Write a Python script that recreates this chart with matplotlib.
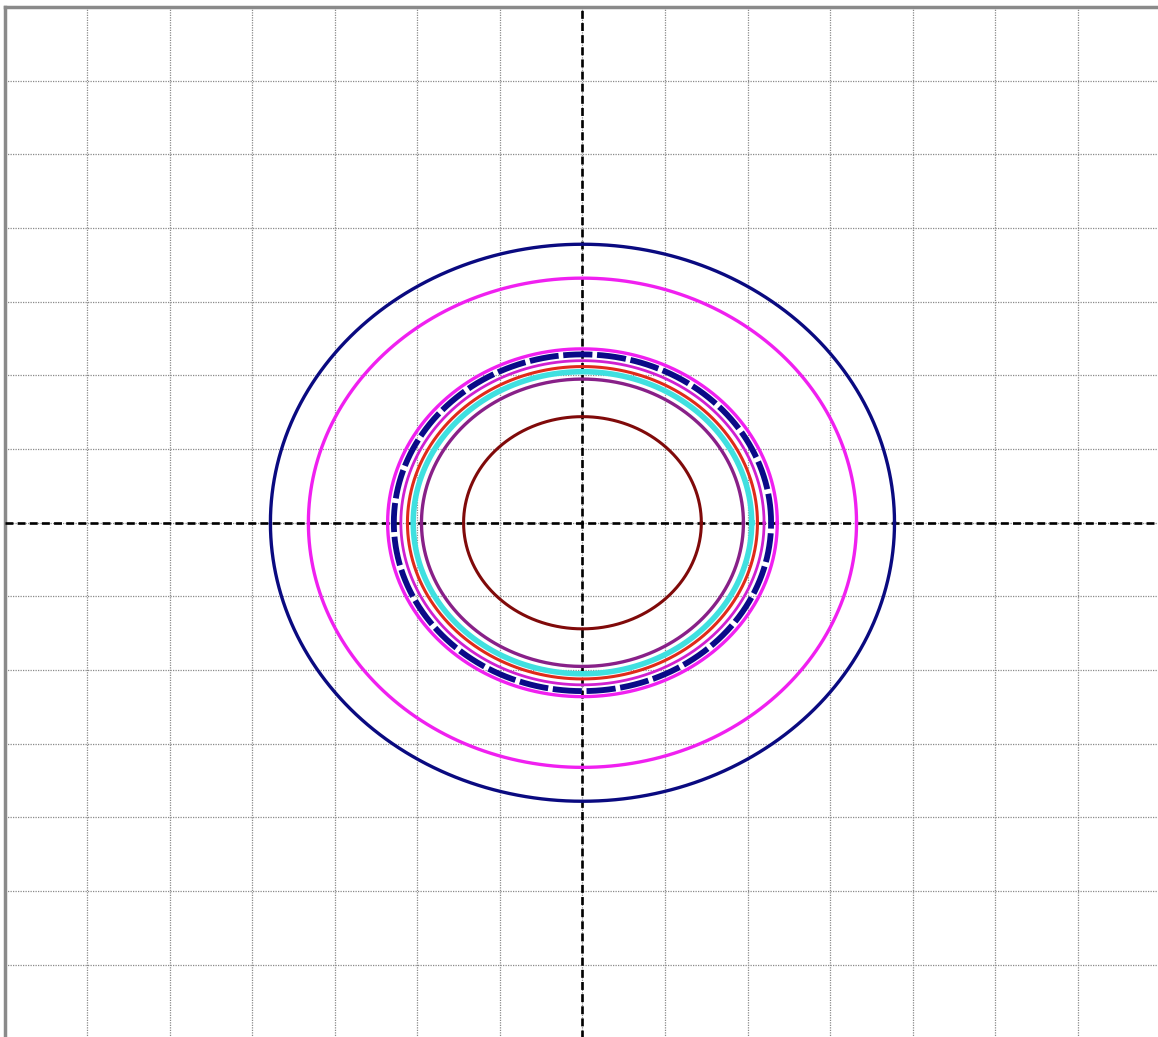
import numpy as np
import matplotlib
matplotlib.use("Agg")
import matplotlib.pyplot as plt

# Circle radii (data units) and styles
curve_names = ["outer_navy", "outer_magenta", "magenta_a", "navy_dashed",
               "magenta_b", "red", "cyan", "purple", "brown"]
radii = [3.78, 3.32, 2.36, 2.285, 2.20, 2.12, 2.05, 1.95, 1.44]
colors = ["#0a0a80", "#f020f0", "#f020f0", "#0a0a88",
          "#d020d0", "#e02a1a", "#40e0e0", "#882088", "#800a0a"]
widths = [2.4, 2.4, 2.4, 4.2, 2.0, 2.2, 4.0, 2.4, 2.2]
styles = ["-", "-", "-", (0, (5, 0.8)), "-", "-", "-", "-", "-"]

grid_ticks = list(range(-7, 8))
xlim = (-7, 7)
ylim = (-7, 7)

W, H = 1158, 1037
fig = plt.figure(figsize=(W / 100, H / 100), dpi=100)
ax = fig.add_axes([4.6 / W, -1.5 / H, (W - 4.6) / W + 0.002, (H - 7 + 1.5) / H])
ax.set_xlim(*xlim)
ax.set_ylim(*ylim)

ax.set_xticks(grid_ticks)
ax.set_yticks(grid_ticks)
ax.grid(True, color="#8a8a8a", linestyle=(0, (1, 1)), linewidth=0.9)
ax.tick_params(length=0, labelbottom=False, labelleft=False)
for s in ["top", "left", "right", "bottom"]:
    ax.spines[s].set_color("#8a8a8a")
    ax.spines[s].set_linewidth(2.5)

ax.axhline(0, color="black", linestyle=(0, (3.0, 1.6)), linewidth=1.9, zorder=3)
ax.axvline(0, color="black", linestyle=(0, (3.0, 1.6)), linewidth=1.9, zorder=3)

theta = np.linspace(0, 2 * np.pi, 721)
for name, r, c, lw, ls in zip(curve_names, radii, colors, widths, styles):
    ax.plot(r * np.cos(theta), r * np.sin(theta), color=c, linewidth=lw,
            linestyle=ls, zorder=4, label=name)

fig.savefig("out.png", dpi=100)
